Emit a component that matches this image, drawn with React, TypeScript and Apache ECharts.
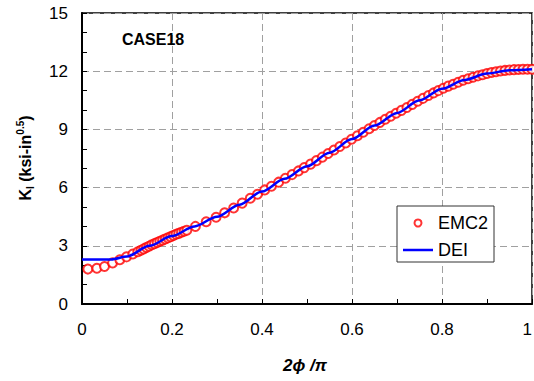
import React, { useEffect, useRef } from "react";
import * as echarts from "echarts";

const emcX = [
  0.013, 0.033, 0.05, 0.068, 0.084, 0.099, 0.113, 0.124, 0.131, 0.137, 0.143, 0.149, 0.155,
  0.161, 0.167, 0.173, 0.179, 0.185, 0.191, 0.197, 0.203, 0.209, 0.215, 0.221, 0.227, 0.233,
  0.252, 0.276, 0.298, 0.317, 0.337, 0.356, 0.374, 0.39, 0.406, 0.421, 0.437, 0.452, 0.467,
  0.481, 0.494, 0.508, 0.521, 0.534, 0.547, 0.56, 0.573, 0.586, 0.599, 0.612, 0.625, 0.638,
  0.65, 0.662, 0.674, 0.686, 0.698, 0.71, 0.722, 0.734, 0.746, 0.758, 0.77, 0.781, 0.792,
  0.803, 0.814, 0.825, 0.836, 0.847, 0.858, 0.869, 0.88, 0.89, 0.9, 0.91, 0.92, 0.93, 0.94,
  0.95, 0.96, 0.97, 0.98, 0.99, 1.0,
];
const emcY = [
  1.8, 1.84, 1.93, 2.12, 2.28, 2.43, 2.58, 2.69, 2.77, 2.84, 2.91, 2.98, 3.05,
  3.11, 3.17, 3.23, 3.29, 3.35, 3.41, 3.47, 3.53, 3.59, 3.64, 3.7, 3.75, 3.8,
  4.0, 4.24, 4.47, 4.7, 4.95, 5.2, 5.45, 5.66, 5.88, 6.07, 6.28, 6.48, 6.67,
  6.86, 7.03, 7.21, 7.39, 7.57, 7.76, 7.94, 8.12, 8.3, 8.49, 8.67, 8.85, 9.03,
  9.2, 9.36, 9.52, 9.68, 9.83, 9.98, 10.13, 10.29, 10.45, 10.6, 10.75, 10.88, 11.0,
  11.12, 11.23, 11.33, 11.43, 11.53, 11.61, 11.69, 11.76, 11.82, 11.88, 11.93, 11.97, 12.01, 12.04,
  12.06, 12.08, 12.09, 12.1, 12.1, 12.1,
];
const deiX = [0, 0.065, 0.1, 0.15, 0.2, 0.25, 0.3, 0.35, 0.4, 0.45, 0.5, 0.55, 0.6, 0.65, 0.7, 0.75, 0.8, 0.85, 0.9, 0.95, 1.0];
const deiY = [2.3, 2.3, 2.45, 3.0, 3.5, 4.0, 4.5, 5.12, 5.8, 6.45, 7.1, 7.8, 8.5, 9.2, 9.85, 10.5, 11.1, 11.55, 11.88, 12.05, 12.1];

const FONT = '"Liberation Sans", Arial, sans-serif';

export default function App() {
  const ref = useRef<HTMLDivElement>(null);
  useEffect(() => {
    if (!ref.current) return;
    const chart = echarts.init(ref.current, null, { renderer: "svg" });
    const split = { show: true, lineStyle: { color: "#a0a0a0", width: 1, type: [7, 4] as any } };
    chart.setOption({
      animation: false,
      textStyle: { fontFamily: FONT },
      grid: {
        left: 82, top: 13, width: 450, height: 291,
        containLabel: false, outerBoundsMode: "none",
        show: true, borderColor: "#000", borderWidth: 1.5, backgroundColor: "transparent",
      },
      title: { text: "CASE18", left: 122, top: 31, padding: 0, textStyle: { fontSize: 16, fontWeight: "bold", color: "#000", fontFamily: FONT } },
      legend: {
        orient: "vertical",
        left: 397,
        top: 206,
        padding: [7, 6, 2, 6],
        itemGap: 7,
        itemWidth: 30,
        itemHeight: 7,
        backgroundColor: "#fff",
        borderColor: "#333",
        borderWidth: 1,
        borderRadius: 0,
        textStyle: { fontSize: 18, color: "#000", fontFamily: FONT, lineHeight: 20 },
        data: [
          { name: "EMC2", icon: "emptyCircle" },
          { name: "DEI", icon: "path://M0,0 L30,0 L30,2.5 L0,2.5 Z", itemStyle: { color: "#0000ff", borderWidth: 0 } },
        ],
      },
      xAxis: {
        type: "value",
        min: 0,
        max: 1,
        interval: 0.2,
        axisLine: { show: true, onZero: false, lineStyle: { color: "#000", width: 2 } },
        axisTick: { show: true, inside: true, length: 5, lineStyle: { color: "#000", width: 1 } },
        minorTick: { show: true, splitNumber: 2, length: 5, lineStyle: { color: "#000", width: 1 } },
        axisLabel: {
          fontSize: 17, color: "#000", margin: 17, fontFamily: FONT, alignMaxLabel: "right",
          formatter: (v: number) => String(Math.round(v * 10) / 10),
        },
        splitLine: split,
      },
      yAxis: {
        type: "value",
        min: 0,
        max: 15,
        interval: 3,
        axisLine: { show: true, onZero: false, lineStyle: { color: "#000", width: 2 } },
        axisTick: { show: true, inside: true, length: 5, lineStyle: { color: "#000", width: 1 } },
        minorTick: { show: true, splitNumber: 3, length: 5, lineStyle: { color: "#000", width: 1 } },
        axisLabel: { fontSize: 17, color: "#000", margin: 14, fontFamily: FONT },
        splitLine: split,
      },
      graphic: [
        {
          type: "text",
          x: 25,
          y: 158,
          rotation: Math.PI / 2,
          style: {
            text: "{a|K}{b|I}{a| (ksi-in}{c|0.5}{a|)}",
            align: "center",
            verticalAlign: "middle",
            rich: {
              a: { fontSize: 16, fontWeight: "bold", fontFamily: FONT, fill: "#000", verticalAlign: "middle", lineHeight: 20 },
              b: { fontSize: 10, fontWeight: "bold", fontFamily: FONT, fill: "#000", verticalAlign: "bottom", lineHeight: 20 },
              c: { fontSize: 10, fontWeight: "bold", fontFamily: FONT, fill: "#000", verticalAlign: "top", lineHeight: 20 },
            },
          },
        },
        {
          type: "text",
          x: 305,
          y: 365,
          style: {
            text: "2\u03D5 /\u03C0",
            align: "center",
            verticalAlign: "middle",
            font: `italic bold 17px ${FONT}`,
            fill: "#000",
          },
        },
      ],
      series: [
        {
          name: "EMC2",
          type: "scatter",
          data: emcX.map((x, i) => [x, emcY[i]]),
          symbol: "emptyCircle",
          symbolSize: 9,
          itemStyle: { color: "#ff0000", borderColor: "#ff0000", borderWidth: 1.1 },
          z: 2,
        },
        {
          name: "DEI",
          type: "line",
          data: deiX.map((x, i) => [x, deiY[i]]),
          symbol: "none",
          smooth: 0.3,
          smoothMonotone: "x",
          lineStyle: { color: "#0000ff", width: 2.5 },
          itemStyle: { color: "#0000ff" },
          z: 3,
        },
      ],
    });
    return () => chart.dispose();
  }, []);
  return <div ref={ref} style={{ width: 534, height: 381, position: "absolute", left: 0, top: 0 }} />;
}
